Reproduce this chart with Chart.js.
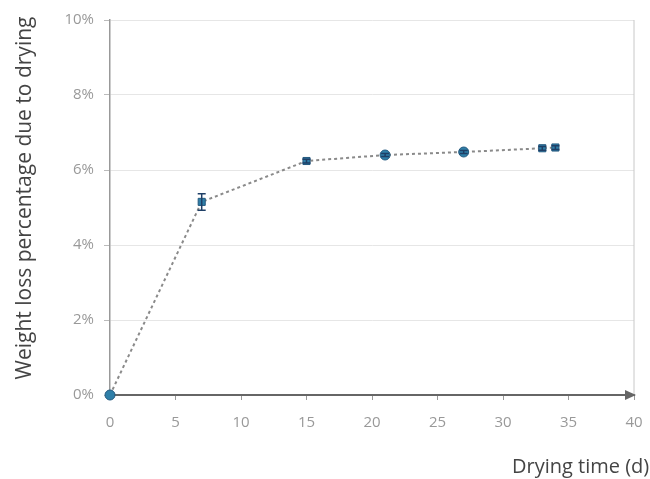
<!DOCTYPE html>
<html lang="en">
<head>
    <meta charset="UTF-8">
    <title>Weight loss due to drying</title>
    <script src="https://cdn.jsdelivr.net/npm/chart.js"></script>
    <style>
        body {
            margin: 0;
            padding: 0;
            background-color: #fff;
            overflow: hidden;
        }

        .chart-container {
            width: 650px;
            height: 479px;
        }
    </style>
</head>
<body>
    <div class="chart-container">
        <canvas id="chart"></canvas>
    </div>

    <script>
        // data
        const dryingDays = [0, 7, 15, 21, 27, 33, 34];
        const weightLoss = [0, 5.15, 6.24, 6.4, 6.48, 6.58, 6.6];
        const errorBars = [0, 0.22, 0.05, 0.04, 0.04, 0.05, 0.05];
        const markerStyles = ['circle', 'rect', 'rect', 'circle', 'circle', 'rect', 'rect'];
        const xTicks = [0, 5, 10, 15, 20, 25, 30, 35, 40];
        const yTicks = [0, 2, 4, 6, 8, 10];

        const axisFont = "'Open Sans', 'DejaVu Sans', sans-serif";

        // error bars, arrow, frame and axis titles
        const extras = {
            id: 'extras',
            afterDatasetsDraw(chart) {
                const ctx = chart.ctx;
                const x = chart.scales.x;
                const y = chart.scales.y;
                const area = chart.chartArea;

                ctx.save();
                ctx.strokeStyle = '#1f3f66';
                ctx.lineWidth = 1.5;
                dryingDays.forEach((d, i) => {
                    if (!errorBars[i]) return;
                    const px = x.getPixelForValue(d);
                    const top = y.getPixelForValue(weightLoss[i] + errorBars[i]);
                    const bot = y.getPixelForValue(weightLoss[i] - errorBars[i]);
                    ctx.beginPath();
                    ctx.moveTo(px, top); ctx.lineTo(px, bot);
                    ctx.moveTo(px - 4, top); ctx.lineTo(px + 4, top);
                    ctx.moveTo(px - 4, bot); ctx.lineTo(px + 4, bot);
                    ctx.stroke();
                });

                // right frame line
                ctx.strokeStyle = '#c8c8c8';
                ctx.lineWidth = 1;
                ctx.beginPath();
                ctx.moveTo(area.right, area.top);
                ctx.lineTo(area.right, area.bottom);
                ctx.stroke();

                // arrow on x axis
                ctx.fillStyle = '#666';
                ctx.beginPath();
                ctx.moveTo(area.right + 2, area.bottom);
                ctx.lineTo(area.right - 9, area.bottom - 5);
                ctx.lineTo(area.right - 9, area.bottom + 5);
                ctx.closePath();
                ctx.fill();

                // axis titles
                ctx.fillStyle = '#444';
                ctx.font = "20px " + axisFont;
                ctx.textAlign = 'left';
                ctx.textBaseline = 'middle';
                ctx.fillText('Drying time (d)', 512, 467);

                ctx.translate(25, 198);
                ctx.rotate(-Math.PI / 2);
                ctx.textAlign = 'center';
                ctx.font = "21px " + axisFont;
                ctx.fillText('Weight loss percentage due to drying', 0, 0);
                ctx.restore();
            }
        };

        new Chart(document.getElementById('chart'), {
            type: 'scatter',
            data: {
                datasets: [{
                    data: dryingDays.map((d, i) => ({ x: d, y: weightLoss[i] })),
                    showLine: true,
                    clip: false,
                    borderColor: '#8a8a8a',
                    borderWidth: 2,
                    borderDash: [3, 3],
                    pointStyle: markerStyles,
                    pointRadius: 5,
                    pointBackgroundColor: '#2f7fa8',
                    pointBorderColor: '#24597f',
                    pointBorderWidth: 1
                }]
            },
            options: {
                responsive: true,
                maintainAspectRatio: false,
                animation: false,
                layout: {
                    padding: { top: 20, right: 16, left: 0, bottom: 0 }
                },
                plugins: {
                    legend: { display: false },
                    tooltip: { enabled: false }
                },
                scales: {
                    x: {
                        type: 'linear',
                        min: 0,
                        max: 40,
                        afterBuildTicks: axis => { axis.ticks = xTicks.map(v => ({ value: v })); },
                        afterFit: axis => { axis.height = 84; axis.paddingRight = 0; },
                        border: { color: '#666', width: 2 },
                        grid: { drawOnChartArea: false, drawTicks: true, tickLength: 5, color: '#999' },
                        ticks: {
                            color: '#999',
                            font: { size: 15, family: axisFont },
                            padding: 14
                        }
                    },
                    y: {
                        min: 0,
                        max: 10,
                        afterBuildTicks: axis => { axis.ticks = yTicks.map(v => ({ value: v })); },
                        afterFit: axis => { axis.width = 110; },
                        border: { color: '#999', width: 1.5 },
                        grid: { color: '#e6e6e6', tickLength: 6, tickColor: '#bbb' },
                        ticks: {
                            color: '#999',
                            font: { size: 15, family: axisFont },
                            padding: 10,
                            callback: v => v + '%'
                        }
                    }
                }
            },
            plugins: [extras]
        });
    </script>
</body>
</html>
